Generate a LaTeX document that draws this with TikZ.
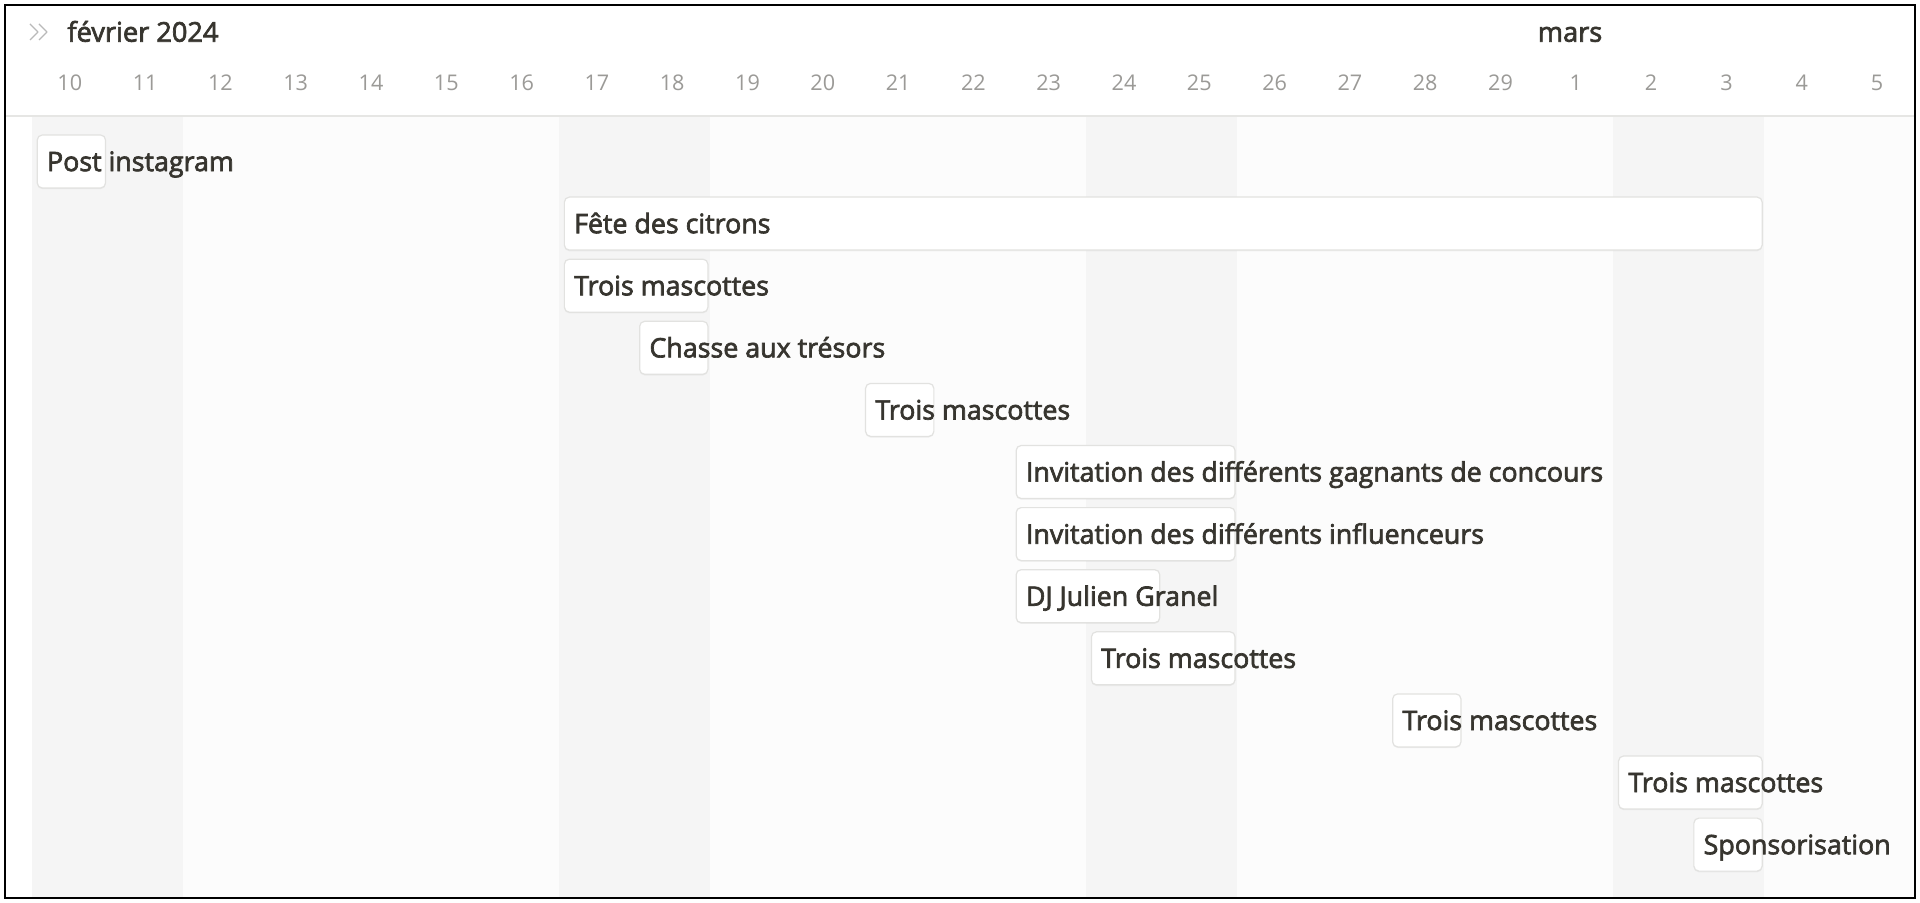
\documentclass[tikz,border=0pt]{standalone}
\usepackage{fontspec}
\setmainfont{Open Sans}
\newfontfamily\medfont{Open Sans}[FakeBold=2.5]
\usepackage{tikz}
\usepackage{xcolor}
\usetikzlibrary{positioning, calc, shadows}
\definecolor{inktext}{HTML}{37352F}
\definecolor{daygray}{HTML}{9B9A97}
\definecolor{weekendfill}{HTML}{F5F5F5}
\definecolor{weekdayfill}{HTML}{FCFCFC}
\definecolor{barline}{HTML}{E2E2E0}
\definecolor{ruleline}{HTML}{E6E6E4}

\begin{document}
\begin{tikzpicture}[
  x=0.5pt, y=-0.5pt,
  every node/.style={font=\medfont\fontsize{13.4}{16}\selectfont, text=inktext, inner sep=0pt},
  daylabel/.style={font=\fontsize{10.8}{13}\selectfont, text=daygray},
  monthlabel/.style={font=\medfont\fontsize{13.6}{16}\selectfont, text height=9.7pt, text depth=0pt},
  taskbar/.style={draw=barline, fill=white, line width=0.6pt, rounded corners=2.5pt,
    minimum height=26.5pt, anchor=west,
    drop shadow={shadow xshift=0pt, shadow yshift=-0.6pt, opacity=0.09}},
  tasktext/.style={anchor=west, text height=9.6pt, text depth=0pt}
]
\useasboundingbox (0,0) rectangle (1920,903);
\fill[white] (0,0) rectangle (1920,903);

% Day columns -- weekdays faint, weekends a bit darker
\foreach \i in {0,...,24} {
  \fill[weekdayfill] (32.15+75.3*\i,117) rectangle (32.15+75.3*\i+75.3,897);
}
\foreach \i in {0,1,7,8,14,15,21,22} {
  \fill[weekendfill] (32.15+75.3*\i,117) rectangle (32.15+75.3*\i+75.3,897);
}

% Header
\draw[ruleline, line width=0.7pt] (5,116) -- (1915,116);
\draw[gray!55, line width=0.7pt, line join=round] (30,24) -- (38,32) -- (30,40);
\draw[gray!55, line width=0.7pt, line join=round] (39,24) -- (47,32) -- (39,40);
\node[monthlabel, anchor=west] (feb) at (67,32) {février 2024};
\node[monthlabel] (mar) at (1570,32) {mars};

% Day numbers
\foreach \d [count=\i from 0] in {10,11,12,13,14,15,16,17,18,19,20,21,22,23,24,25,26,27,28,29,1,2,3,4,5} {
  \node[daylabel] (day\i) at (69.8+75.3*\i,83) {\d};
}

% Task bars: first day / last day / row / label
\foreach \first/\last/\row/\label in {
  0/0/0/Post instagram,
  7/22/1/Fête des citrons,
  7/8/2/Trois mascottes,
  8/8/3/Chasse aux trésors,
  11/11/4/Trois mascottes,
  13/15/5/Invitation des différents gagnants de concours,
  13/15/6/Invitation des différents influenceurs,
  13/14/7/DJ Julien Granel,
  14/15/8/Trois mascottes,
  18/18/9/Trois mascottes,
  21/22/10/Trois mascottes,
  22/22/11/Sponsorisation} {
  \pgfmathsetmacro\xa{32.15+75.3*\first+4.5}
  \pgfmathsetmacro\bw{(75.3*(\last-\first+1)-7)*0.5}
  \pgfmathsetmacro\yc{161.5+62.1*\row}
  \node[taskbar, minimum width=\bw pt] (bar\row) at (\xa,\yc) {};
  \node[tasktext, right=5pt of bar\row.west] (task\row) {\label};
}

% Frame
\draw[black, line width=1.3pt] (5,5) rectangle (1915,898);
\end{tikzpicture}
\end{document}
